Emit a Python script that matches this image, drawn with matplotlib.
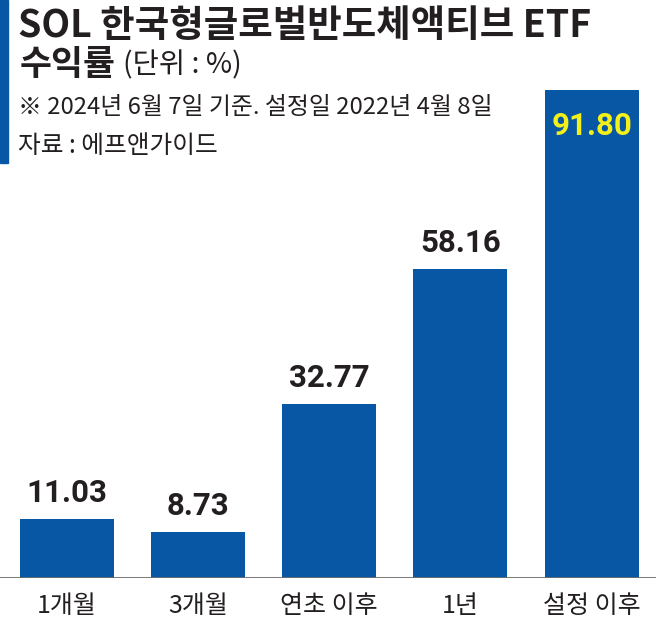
import matplotlib
matplotlib.use("Agg")
import matplotlib.pyplot as plt
from matplotlib.patches import Rectangle

plt.rcParams['font.family'] = ['Noto Sans CJK KR', 'DejaVu Sans']

categories = ["1개월", "3개월", "연초 이후", "1년", "설정 이후"]
values = [11.03, 8.73, 32.77, 58.16, 91.80]
value_labels = ["11.03", "8.73", "32.77", "58.16", "91.80"]
title = "SOL 한국형글로벌반도체액티브 ETF"
subtitle_bold = "수익률"
subtitle_unit = "(단위 : %)"
note = "※ 2024년 6월 7일 기준. 설정일 2022년 4월 8일"
source = "자료 : 에프앤가이드"

W, H = 656, 626
BLUE = "#0757a4"
TXT = "#231f20"

fig = plt.figure(figsize=(W / 100, H / 100), dpi=100)
fig.patch.set_facecolor("white")

base_px = 578
ax = fig.add_axes([0, (H - base_px) / H, 1, base_px / H])
ax.set_facecolor("none")
px_per_unit = (578 - 90) / 91.80
ax.set_ylim(0, base_px / px_per_unit)
spacing = 131.3
ax.set_xlim(-66.5 / spacing, (W - 66.5) / spacing)
xs = list(range(len(categories)))
ax.bar(xs, values, width=94 / spacing, color=BLUE, zorder=2)
for sp in ax.spines.values():
    sp.set_visible(False)
ax.set_xticks([])
ax.set_yticks([])
ax.axhline(0, color="#6e6e6e", lw=1.3, zorder=3)

for i, (v, lab) in enumerate(zip(values, value_labels)):
    if i == len(values) - 1:
        ax.annotate(lab, (i, v), xytext=(0, -21), textcoords="offset pixels",
                    ha="center", va="top", fontsize=22.5, fontweight="bold",
                    color="#f2ef1a", family=["Roboto", "DejaVu Sans"])
    else:
        ax.annotate(lab, (i, v), xytext=(0, 11), textcoords="offset pixels",
                    ha="center", va="bottom", fontsize=22.5, fontweight="bold",
                    color=TXT, family=["Roboto", "DejaVu Sans"])
    ax.annotate(categories[i], (i, 0), xytext=(0, -28), textcoords="offset pixels",
                ha="center", va="center", fontsize=18, color=TXT)

# left accent bar
fig.patches.append(Rectangle((0, 1 - 163 / H), 8 / W, 163 / H,
                             transform=fig.transFigure, color=BLUE, zorder=5))

fig.text(18 / W, 1 - 25 / H, title, fontsize=27, fontweight="bold",
         color=TXT, va="center", ha="left")
fig.text(20 / W, 1 - 64 / H, subtitle_bold, fontsize=25, fontweight="bold",
         color=TXT, va="center", ha="left")
fig.text(123 / W, 1 - 65 / H, subtitle_unit, fontsize=20.5,
         color=TXT, va="center", ha="left")
fig.text(18 / W, 1 - 107 / H, note, fontsize=17.2,
         color=TXT, va="center", ha="left")
fig.text(18 / W, 1 - 146 / H, source, fontsize=17.8,
         color=TXT, va="center", ha="left")

fig.savefig("out.png", dpi=100, facecolor="white")
